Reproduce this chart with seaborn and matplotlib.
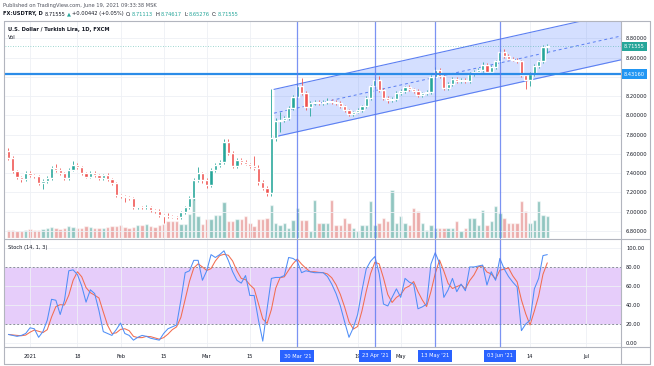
import numpy as np
import pandas as pd
import seaborn as sns
import matplotlib.pyplot as plt
from matplotlib.lines import Line2D
from matplotlib import transforms

# daily USDTRY bars, 25 Dec 2020 .. 18 Jun 2021 (FX: open = previous close)
dates = pd.bdate_range('2020-12-25', '2021-06-18')
first_open = 7.63
closes = [7.554, 7.426, 7.364, 7.34, 7.405,
          7.38, 7.37, 7.30, 7.32, 7.35, 7.45, 7.43, 7.40, 7.35, 7.43,
          7.49, 7.46, 7.40, 7.365, 7.40, 7.38, 7.35, 7.38, 7.34, 7.30,
          7.17, 7.16, 7.15, 7.14, 7.05, 7.05, 7.045, 7.05, 7.02, 7.01,
          6.965, 6.96, 6.955, 6.95, 6.94, 7.00, 7.05, 7.14, 7.33, 7.405,
          7.33, 7.28, 7.43, 7.485, 7.52, 7.727, 7.606, 7.47, 7.537, 7.52,
          7.50, 7.47, 7.45, 7.31, 7.25, 7.19,
          7.77, 7.94, 7.95, 7.97, 8.08, 8.19, 8.31, 8.23, 8.09, 8.13,
          8.14, 8.13, 8.14, 8.15, 8.14, 8.13, 8.10, 8.06, 8.01, 8.04,
          8.06, 8.10, 8.18, 8.30, 8.37, 8.26, 8.18, 8.16, 8.17, 8.23,
          8.25, 8.29, 8.27, 8.25, 8.21, 8.23, 8.245, 8.40, 8.47, 8.41,
          8.28, 8.33, 8.38, 8.36, 8.37, 8.36, 8.43, 8.45, 8.47, 8.52,
          8.45, 8.50, 8.56, 8.66, 8.62, 8.59, 8.58, 8.56, 8.42, 8.37,
          8.43, 8.51, 8.56, 8.71113, 8.71555]
# wick lengths above / below the body, in 0.01
upper_wick = [3, 2, 1, 1, 2, 2, 1, 1, 2, 2,
              2, 5, 2, 1, 2, 4, 2, 1, 1, 2,
              2, 1, 1, 2, 1, 1, 1, 1, 1, 1,
              1, 1, 2, 1, 1, 2, 1, 3, 1, 1,
              1, 1, 2, 2, 6, 1, 2, 2, 2, 2,
              3, 3, 2, 2, 2, 2, 1, 11, 3, 2,
              2, 50, 3, 9, 2, 2, 2, 3, 8, 2,
              2, 2, 2, 2, 3, 2, 2, 2, 1, 1,
              1, 2, 1, 2, 2, 2, 4, 2, 2, 2,
              2, 2, 2, 3, 1, 2, 1, 2, 2, 3,
              2, 2, 2, 2, 2, 2, 2, 2, 2, 2,
              3, 2, 2, 2, 3, 3, 2, 2, 2, 2,
              2, 2, 2, 2, 2, 3.06]
lower_wick = [2, 2, 2, 3, 2, 2, 2, 2, 6, 2,
              2, 2, 2, 2, 2, 1, 2, 2, 2, 2,
              2, 2, 2, 2, 2, 2, 2, 5, 2, 2,
              2, 2, 2, 2, 2, 2, 8, 2, 2, 2,
              2, 2, 2, 2, 2, 3, 3, 2, 2, 2,
              2, 2, 2, 2, 2, 2, 2, 2, 3, 2,
              3, 3, 4, 11, 2, 2, 2, 2, 2, 3,
              10, 2, 2, 2, 2, 2, 2, 2, 2, 2,
              2, 2, 2, 2, 2, 2, 2, 2, 3, 2,
              2, 2, 2, 2, 2, 2, 2, 2, 2, 2,
              2, 2, 2, 2, 2, 2, 2, 2, 2, 2,
              2, 2, 2, 2, 2, 2, 2, 2, 2, 2,
              10, 7, 2, 2, 2, 5.84]
volume = [8, 8, 7, 7, 8, 9, 8, 8, 9, 10,
          11, 10, 9, 10, 12, 11, 10, 10, 12, 11,
          10, 10, 10, 11, 12, 12, 13, 11, 10, 11,
          13, 13, 14, 12, 11, 13, 14, 17, 17, 17,
          14, 14, 24, 47, 22, 14, 19, 19, 23, 23,
          36, 17, 17, 19, 19, 22, 15, 12, 19, 19,
          20, 33, 15, 13, 15, 10, 18, 30, 18, 18,
          7, 38, 15, 15, 15, 38, 13, 13, 20, 15,
          10, 7, 13, 13, 37, 13, 15, 20, 17, 48,
          15, 22, 15, 13, 30, 27, 15, 8, 13, 10,
          10, 10, 10, 10, 17, 7, 10, 20, 20, 13,
          28, 13, 17, 32, 25, 20, 15, 15, 15, 37,
          27, 15, 18, 37, 23, 22]
stoch_k = [9, 8, 7, 8, 10, 16, 15, 6, 12, 24,
           46, 45, 30, 45, 76, 77, 72, 60, 43, 56,
           52, 34, 12, 10, 8, 14, 21, 10, 8, 3,
           6, 8, 7, 5, 4, 3, 10, 15, 17, 19,
           45, 74, 76, 87, 87, 66, 76, 93, 90, 93,
           97, 87, 75, 66, 63, 71, 50, 50, 24, 2,
           36, 68, 69, 69, 71, 90, 89, 86, 74, 76,
           75, 74, 74, 74, 70, 62, 52, 39, 22, 6,
           16, 30, 55, 78, 86, 91, 73, 41, 39, 48,
           57, 48, 68, 64, 62, 36, 38, 41, 83, 95,
           84, 48, 56, 68, 54, 62, 55, 80, 80, 81,
           82, 61, 75, 66, 89, 78, 70, 64, 59, 13,
           20, 24, 57, 68, 92, 93]

# drawings on the chart
channel_x0 = 56.6
channel_low, channel_high = 7.776, 8.27
channel_slope = 0.00995
hline_price = 8.4316
last_price = 8.71555
marked_days = ['2021-03-30', '2021-04-23', '2021-05-13', '2021-06-03']
marked_labels = ["30 Mar '21", "23 Apr '21", "13 May '21", "03 Jun '21"]
tick_days = ['2021-01-01', '2021-01-18', '2021-02-01', '2021-02-15', '2021-03-01',
             '2021-03-15', '2021-04-19', '2021-05-03', '2021-06-14', '2021-07-01']
tick_labels = ['2021', '18', 'Feb', '15', 'Mar', '15', '19', 'May', '14', 'Jul']
price_ticks = [6.8, 7.0, 7.2, 7.4, 7.6, 7.8, 8.0, 8.2, 8.4, 8.6, 8.8]
stoch_ticks = [0, 20, 40, 60, 80, 100]

UP, DOWN = '#26a69a', '#ef5350'
BLUE = '#2962ff'
TXT = '#131722'

cal = pd.bdate_range('2020-12-25', '2021-07-30')
xpos = pd.Series(np.arange(len(cal)) - 5, index=cal)

df = pd.DataFrame({'date': dates, 'close': closes, 'vol': volume, 'k': stoch_k})
df['x'] = xpos[dates].values
df['open'] = df['close'].shift(1).fillna(first_open)
df['top'] = df[['open', 'close']].max(axis=1)
df['bot'] = df[['open', 'close']].min(axis=1)
df['high'] = df['top'] + np.array(upper_wick) / 100
df['low'] = df['bot'] - np.array(lower_wick) / 100
df['d'] = df['k'].rolling(3, min_periods=1).mean()
df['dir'] = np.where(df['close'] >= df['open'], 'up', 'down')

sns.set_theme(style='white')
plt.rcParams['font.family'] = ['DejaVu Sans']
FS = 3.7

W, H = 654, 366
fig = plt.figure(figsize=(6.54, 3.66), dpi=100)


def fx(px):
    return px / W


def fy(py):
    return 1 - py / H


L, R = 5, 621
ax = fig.add_axes([fx(L), fy(238), fx(R - L), (238 - 21) / H])
ax_st = fig.add_axes([fx(L), fy(347), fx(R - L), (347 - 238) / H], sharex=ax)
vol_ax = ax.twinx()
ax.set_zorder(vol_ax.get_zorder() + 1)
ax.patch.set_visible(False)

XMIN, XMAX = -5.8, 137.1

# volume
sns.barplot(data=df, x='x', y='vol', hue='dir', palette={'up': UP, 'down': DOWN},
            native_scale=True, dodge=False, width=0.78, alpha=0.55,
            errorbar=None, legend=False, ax=vol_ax)
vol_ax.set_ylim(0, 217)
vol_ax.set_axis_off()

# channel
cx = np.array([channel_x0, XMAX])
lo = channel_low + channel_slope * (cx - channel_x0)
hi = channel_high + channel_slope * (cx - channel_x0)
ax.fill_between(cx, lo, hi, color=BLUE, alpha=0.2, lw=0, zorder=1)
ax.plot(cx, lo, color='#5b7ff2', lw=0.8, zorder=2)
ax.plot(cx, hi, color='#5b7ff2', lw=0.8, zorder=2)
ax.plot(cx, (lo + hi) / 2, color='#5b7ff2', lw=0.7, ls=(0, (3, 3)), zorder=2)

# candles
cols = np.where(df['dir'] == 'up', UP, DOWN)
ax.vlines(df['x'], df['low'], df['high'], colors=cols, lw=0.6, zorder=3)
ax.bar(df['x'], (df['top'] - df['bot']).clip(lower=0.005), bottom=df['bot'],
       width=0.75, color=cols, zorder=4)

ax.axhline(hline_price, color='#2b8ce8', lw=1.6, zorder=5)
ax.axhline(last_price, color=UP, lw=0.6, ls=(0, (1, 2)), alpha=0.6, zorder=2)

# stochastic
ax_st.axhspan(20, 80, color='#e6cdfa', lw=0, zorder=0)
for lvl in (20, 80):
    ax_st.axhline(lvl, color='#8c8f9c', lw=0.7, ls=(0, (2, 2)), zorder=1)
sns.lineplot(data=df, x='x', y='d', color='#f26d50', lw=0.75, ax=ax_st, zorder=3)
sns.lineplot(data=df, x='x', y='k', color='#4f8ef7', lw=0.75, ax=ax_st, zorder=4)

for a in (ax, ax_st):
    for d in marked_days:
        a.axvline(xpos[pd.Timestamp(d)], color='#5a78f0', lw=0.9, alpha=0.8, zorder=6)

# axes
tick_x = [xpos[pd.Timestamp(d)] for d in tick_days]
ax_st.set_xlim(XMIN, XMAX)
ax.set_ylim(6.727, 8.98)
ax_st.set_ylim(-4.2, 110.5)
ax_st.set_xticks(tick_x, tick_labels)
ax.set_yticks(price_ticks, ['' if abs(p - 8.4) < 1e-9 else f'{p:.5f}' for p in price_ticks])
ax_st.set_yticks(stoch_ticks, [f'{v:.2f}' for v in stoch_ticks])
for a in (ax, ax_st):
    a.yaxis.tick_right()
    a.tick_params(axis='y', length=0, pad=3.6, labelsize=FS, labelcolor=TXT)
    a.grid(True, color='#eef0f5', lw=0.6)
    a.set_axisbelow(True)
    a.set_xlabel('')
    a.set_ylabel('')
    for s in a.spines.values():
        s.set_visible(False)
ax.tick_params(axis='x', length=0, labelbottom=False)
ax_st.tick_params(axis='x', length=0, pad=5.2, labelsize=FS, labelcolor=TXT)

# date boxes under the marked lines
bt = transforms.blended_transform_factory(ax_st.transData, fig.transFigure)
for d, lab in zip(marked_days, marked_labels):
    ax_st.text(xpos[pd.Timestamp(d)], fy(356), lab, transform=bt, ha='center', va='center',
               fontsize=FS, color='white', zorder=10, clip_on=False,
               bbox=dict(fc=BLUE, ec='none', pad=2.2))

# price scale labels
fig.text(fx(624), fy(46.5), '8.71555', fontsize=FS, color='white', va='center',
         bbox=dict(fc=UP, ec='none', pad=1.6), zorder=10)
fig.text(fx(624), fy(74), '8.43160', fontsize=FS, color='white', va='center',
         bbox=dict(fc='#2196f3', ec='none', pad=1.6), zorder=10)

# frame
frame = [((4, 21), (650, 21)), ((4, 364), (650, 364)), ((4, 21), (4, 364)),
         ((650, 21), (650, 364)), ((621, 21), (621, 364)), ((4, 238.5), (650, 238.5)),
         ((4, 347), (650, 347))]
for (x0, y0), (x1, y1) in frame:
    fig.add_artist(Line2D([fx(x0), fx(x1)], [fy(y0), fy(y1)], color='#b2b5be', lw=0.8))

# header texts
fig.canvas.draw()
rend = fig.canvas.get_renderer()


def text_run(x, y, pieces):
    for s, color, weight, gap in pieces:
        t = fig.text(fx(x), fy(y), s, color=color, fontsize=FS, fontweight=weight,
                     va='center', ha='left')
        x = t.get_window_extent(renderer=rend).x1 + gap


text_run(3, 5.5, [('Published on TradingView.com, June 19, 2021 09:33:38 MSK', '#50535e', 'normal', 0)])
text_run(3, 14, [('FX:USDTRY, D', TXT, 'bold', 2), ('8.71555', TXT, 'normal', 1.5),
                 ('▲', UP, 'normal', 1.5), ('+0.00442 (+0.05%)', TXT, 'normal', 2),
                 ('O:', TXT, 'normal', 0.3), ('8.71113', UP, 'normal', 2),
                 ('H:', TXT, 'normal', 0.3), ('8.74617', UP, 'normal', 2),
                 ('L:', TXT, 'normal', 0.3), ('8.65276', UP, 'normal', 2),
                 ('C:', TXT, 'normal', 0.3), ('8.71555', UP, 'normal', 0)])
text_run(8, 29, [('U.S. Dollar / Turkish Lira, 1D, FXCM', TXT, 'bold', 0)])
text_run(8, 37.5, [('Vol', TXT, 'normal', 0)])
text_run(8, 247.5, [('Stoch (14, 1, 3)', TXT, 'normal', 0)])

fig.savefig('out.png', dpi=100)
